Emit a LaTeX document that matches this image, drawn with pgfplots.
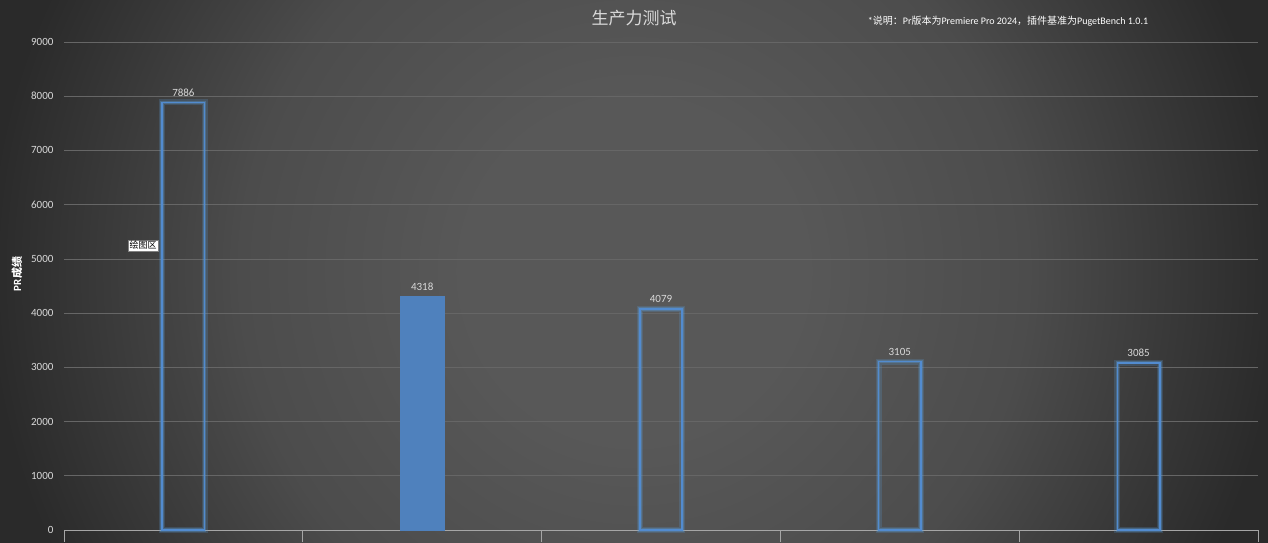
\documentclass[border=0pt]{standalone}
\usepackage{fontspec}
\setmainfont{Carlito}
\newfontfamily\cjk{Noto Sans CJK SC}
\usepackage{pgfplots}
\pgfplotsset{compat=1.18}

\definecolor{bgin}{HTML}{585858}
\definecolor{bgmid}{HTML}{4C4C4C}
\definecolor{bgout}{HTML}{2A2A2A}
\definecolor{gridc}{HTML}{666666}
\definecolor{axisc}{HTML}{A6A6A6}
\definecolor{textc}{HTML}{D9D9D9}
\definecolor{barc}{HTML}{4F81BD}
\definecolor{linec}{HTML}{528BCF}
\definecolor{glowc}{HTML}{5B9BD5}

\pgfdeclareradialshading{chartbg}{\pgfpoint{0bp}{0bp}}{%
  color(0bp)=(bgin); color(12bp)=(bgin); color(28bp)=(bgmid);
  color(46bp)=(bgout); color(50bp)=(bgout)}

\begin{document}
\begin{tikzpicture}[x=1pt,y=1pt]
\path[use as bounding box] (0,0) rectangle (1268,542);
\begin{scope}
  \clip (0,0) rectangle (1268,542);
  \pgftransformshift{\pgfpoint{634pt}{271pt}}
  \pgftransformscale{14}
  \pgflowlevelsynccm
  \pgfuseshading{chartbg}
\end{scope}

\begin{axis}[
  at={(64pt,12pt)}, anchor=south west,
  scale only axis, width=1194pt, height=488pt,
  xmin=-0.5, xmax=4.5, ymin=0, ymax=9000,
  xtick={-0.5,0.5,...,4.5}, xticklabels={},
  ytick={0,1000,...,9000},
  axis lines*=left,
  y axis line style={draw=none},
  x axis line style={draw=axisc, line width=0.8pt},
  tick align=outside, major tick length=12pt,
  ytick style={draw=none},
  xtick style={draw=axisc, line width=0.8pt},
  ymajorgrids, major grid style={draw=gridc, line width=0.7pt},
  tick label style={font=\fontsize{11}{13}\selectfont, text=textc},
  yticklabel style={xshift=5pt},
  /pgf/number format/assume math mode=true,
  /pgf/number format/1000 sep={},
  scaled y ticks=false,
  clip=false,
  nodes near coords style={font=\fontsize{11}{13}\selectfont, text=textc, yshift=2pt},
]
% soft glow under the outlined bars
\addplot[ybar, bar shift=0pt, bar width=0.178, draw=glowc, draw opacity=0.22,
  line width=6pt, fill=none] coordinates {(0,7886) (2,4079) (3,3105) (4,3085)};
\addplot[ybar, bar shift=0pt, bar width=0.178, draw=glowc, draw opacity=0.35,
  line width=3.5pt, fill=none] coordinates {(0,7886) (2,4079) (3,3105) (4,3085)};
\addplot[ybar, bar shift=0pt, bar width=0.178, draw=linec, line width=1.6pt,
  fill=none, nodes near coords] coordinates {(0,7886) (2,4079) (3,3105) (4,3085)};
% highlighted bar
\addplot[ybar, bar shift=0pt, bar width=0.186, draw=barc, line width=0.5pt,
  fill=barc, nodes near coords] coordinates {(1,4318)};

\node[fill=white, draw=gray, inner sep=1.5pt, text=black,
  font=\cjk\fontsize{9}{10}\selectfont] at (axis cs:-0.169,5247) {绘图区};
\end{axis}

\node[font=\cjk\fontsize{17}{20}\selectfont, text=textc] at (634,524) {生产力测试};
\node[font=\fontsize{10}{12}\selectfont, text=white] at (1008,521)
  {*{\cjk 说明：}Pr{\cjk 版本为}Premiere Pro 2024{\cjk ，插件基准为}PugetBench 1.0.1};
\node[rotate=90, font=\fontsize{11}{13}\selectfont\bfseries, text=white] at (17,268)
  {PR{\cjk 成绩}};
\end{tikzpicture}
\end{document}
